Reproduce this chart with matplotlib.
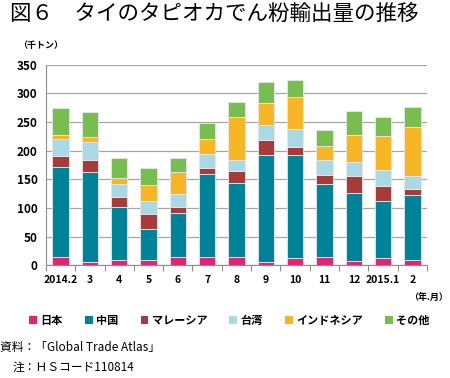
import matplotlib
matplotlib.use("Agg")
import matplotlib.pyplot as plt
import numpy as np
from matplotlib.patches import Patch

plt.rcParams["font.family"] = ["Noto Sans CJK JP", "DejaVu Sans"]

months = ["2014.2", "3", "4", "5", "6", "7", "8", "9", "10", "11", "12", "2015.1", "2"]
japan = [15, 6, 10, 10, 14, 14, 14, 6, 12, 14, 8, 12, 10]
china = [157, 156, 91, 54, 78, 145, 130, 186, 180, 127, 119, 100, 112]
malaysia = [18, 22, 18, 26, 10, 11, 21, 27, 15, 16, 29, 26, 12]
taiwan = [30, 31, 23, 23, 22, 24, 19, 25, 31, 27, 25, 28, 22]
indonesia = [8, 8, 10, 27, 38, 26, 74, 39, 55, 24, 47, 60, 85]
others = [47, 44, 36, 30, 26, 28, 26, 36, 31, 28, 41, 33, 35]

series = [
    ("日本", japan, "#e0266e"),
    ("中国", china, "#008299"),
    ("マレーシア", malaysia, "#a73b39"),
    ("台湾", taiwan, "#a9d9e4"),
    ("インドネシア", indonesia, "#f8b524"),
    ("その他", others, "#77bd4f"),
]

fig = plt.figure(figsize=(4.5, 3.78), dpi=100)
ax = fig.add_axes([0.102, 0.298, 0.847, 0.531])

x = np.arange(len(months))
bottom = np.zeros(len(months))
for name, vals, color in series:
    ax.bar(x, vals, 0.56, bottom=bottom, color=color, edgecolor="#e8e8e8",
           linewidth=0.6, zorder=3)
    bottom += np.array(vals)

ax.set_ylim(0, 350)
ax.set_xlim(-0.5, len(months) - 0.5)
ax.set_yticks(range(0, 351, 50))
ax.yaxis.grid(True, color="#a6a6a6", linewidth=0.9, zorder=0)
ax.tick_params(axis="y", length=0, labelsize=8.5, pad=6)
for lab in ax.get_yticklabels():
    lab.set_fontweight("bold")

ax.set_xticks(x)
ax.set_xticklabels(months, fontsize=7.5, fontweight="bold")
ax.tick_params(axis="x", which="major", length=0, pad=7)
ax.set_xticks(np.arange(-0.5, len(months)), minor=True)
ax.tick_params(axis="x", which="minor", length=4, color="#8c8c8c", width=0.8)

for s in ["top", "right"]:
    ax.spines[s].set_visible(False)
ax.spines["left"].set_color("#8c8c8c")
ax.spines["bottom"].set_color("#8c8c8c")

fig.text(0.022, 0.963, "図６　タイのタピオカでん粉輸出量の推移", fontsize=15.5,
         fontweight="normal", va="center", ha="left")
fig.text(0.04, 0.88, "（千トン）", fontsize=6.5, fontweight="bold", va="center")
fig.text(0.995, 0.212, "（年.月）", fontsize=6.5, fontweight="bold", va="center", ha="right")

handles = [Patch(facecolor=c, edgecolor="none") for _, _, c in series]
labels = [n for n, _, _ in series]
fig.legend(handles, labels, loc="center", bbox_to_anchor=(0.51, 0.152), ncol=6,
           frameon=False, prop={"weight": "bold", "size": 8},
           handlelength=0.7, handleheight=0.7, handletextpad=0.3, columnspacing=2.0)

fig.text(0.0, 0.082, "資料：「Global Trade Atlas」", fontsize=8.5, va="center")
fig.text(0.027, 0.028, "注：ＨＳコード110814", fontsize=8.5, va="center")

fig.savefig("out.png", dpi=100)
